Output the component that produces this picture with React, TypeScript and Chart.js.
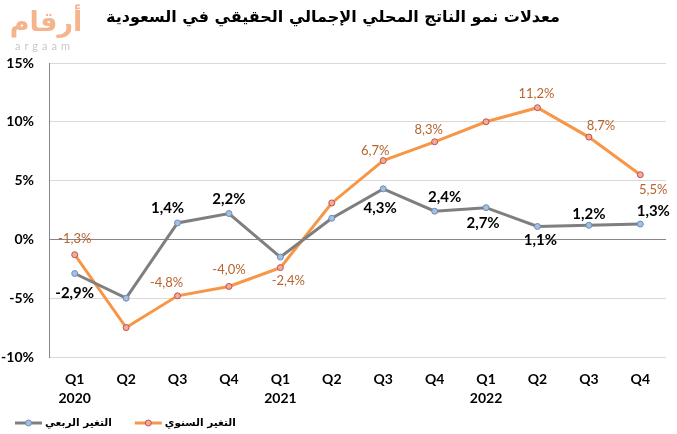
import React, { useEffect, useRef } from "react";
import { Chart, registerables } from "chart.js";

Chart.register(...registerables);

const quarters = ["Q1", "Q2", "Q3", "Q4", "Q1", "Q2", "Q3", "Q4", "Q1", "Q2", "Q3", "Q4"];
const years = ["2020", "", "", "", "2021", "", "", "", "2022", "", "", ""];
const quarterlyChange = [-2.9, -5.0, 1.4, 2.2, -1.5, 1.8, 4.3, 2.4, 2.7, 1.1, 1.2, 1.3];
const annualChange = [-1.3, -7.5, -4.8, -4.0, -2.4, 3.1, 6.7, 8.3, 10.0, 11.2, 8.7, 5.5];
const yTicks = [-10, -5, 0, 5, 10, 15];

const titleText = "معدلات نمو الناتج المحلي الإجمالي الحقيقي في السعودية";
const quarterlyName = "التغير الربعي";
const annualName = "التغير السنوي";

// label placement relative to each point (dx, dy) ; null = no label
const quarterlyLabelPlacement: ([number, number] | null)[] = [
  [0, 20], null, [-10, -15], [0, -14], null, null,
  [-3, 19], [10, -14], [-3, 16], [3, 14], [0, -11], [13, -13],
];
const annualLabelPlacement: ([number, number] | null)[] = [
  [0, -16], null, [-11, -13], [0, -17], [8, 13], null,
  [-8, -10], [-6, -12], null, [-1, -14], [12, -11], [13, 15],
];

const NUM_FONT = "Lato, 'Open Sans', sans-serif";
const AR_FONT = "'DejaVu Sans', sans-serif";

const fmt = (v: number) => v.toFixed(1).replace(".", ",") + "%";

const extrasPlugin = {
  id: "extras",
  afterDatasetsDraw(chart: any) {
    const ctx = chart.ctx as CanvasRenderingContext2D;
    const configs = [
      { placement: quarterlyLabelPlacement, font: `bold 15px ${NUM_FONT}`, color: "#000000" },
      { placement: annualLabelPlacement, font: `13px ${NUM_FONT}`, color: "#B8642E" },
    ];
    chart.data.datasets.forEach((ds: any, di: number) => {
      const meta = chart.getDatasetMeta(di);
      const cfg = configs[di];
      ctx.save();
      ctx.font = cfg.font;
      ctx.fillStyle = cfg.color;
      ctx.textAlign = "center";
      ctx.textBaseline = "middle";
      meta.data.forEach((pt: any, i: number) => {
        const p = cfg.placement[i];
        if (!p) return;
        ctx.fillText(fmt(ds.data[i]), pt.x + p[0], pt.y + p[1]);
      });
      ctx.restore();
    });
  },
  afterDraw(chart: any) {
    const ctx = chart.ctx as CanvasRenderingContext2D;
    // logo
    ctx.save();
    ctx.fillStyle = "#F6B48C";
    ctx.font = `bold 27px ${AR_FONT}`;
    ctx.textAlign = "center";
    ctx.textBaseline = "middle";
    ctx.fillText("أرقام", 46, 24);
    ctx.fillStyle = "#C8C8C8";
    ctx.font = `11px ${NUM_FONT}`;
    (ctx as any).letterSpacing = "4px";
    ctx.textAlign = "left";
    ctx.fillText("argaam", 15, 46);
    ctx.restore();

    // legend
    ctx.save();
    ctx.font = `bold 10.5px ${AR_FONT}`;
    ctx.textBaseline = "middle";
    ctx.textAlign = "left";
    let x = 15;
    const y = 423;
    chart.data.datasets.forEach((ds: any) => {
      ctx.strokeStyle = ds.borderColor;
      ctx.lineWidth = 3;
      ctx.beginPath();
      ctx.moveTo(x, y);
      ctx.lineTo(x + 27, y);
      ctx.stroke();
      ctx.beginPath();
      ctx.arc(x + 13.5, y, 3, 0, Math.PI * 2);
      ctx.fillStyle = ds.pointBackgroundColor;
      ctx.fill();
      ctx.lineWidth = 1;
      ctx.strokeStyle = ds.pointBorderColor;
      ctx.stroke();
      ctx.fillStyle = "#000000";
      ctx.fillText(ds.label, x + 30, y);
      x += 30 + ctx.measureText(ds.label).width + 23;
    });
    ctx.restore();
  },
};

export default function App() {
  const canvasRef = useRef<HTMLCanvasElement | null>(null);

  useEffect(() => {
    document.body.style.margin = "0";
    const canvas = canvasRef.current;
    if (!canvas) return;
    const labels = quarters.map((q, i) => (years[i] ? [q, years[i]] : q));
    const chart = new Chart(canvas, {
      type: "line",
      data: {
        labels,
        datasets: [
          {
            label: quarterlyName,
            data: quarterlyChange,
            borderColor: "#7F7F7F",
            borderWidth: 3,
            pointRadius: 3,
            pointBorderWidth: 1,
            pointBackgroundColor: "#A7BFDE",
            pointBorderColor: "#6A8CBC",
            tension: 0,
          },
          {
            label: annualName,
            data: annualChange,
            borderColor: "#F79646",
            borderWidth: 3,
            pointRadius: 3,
            pointBorderWidth: 1,
            pointBackgroundColor: "#F4AC98",
            pointBorderColor: "#C0504D",
            tension: 0,
          },
        ],
      },
      options: {
        responsive: false,
        animation: false,
        layout: { padding: { left: 0, right: 11, top: 0, bottom: 0 } },
        plugins: {
          legend: { display: false },
          tooltip: { enabled: false },
          title: {
            display: true,
            text: titleText,
            color: "#000000",
            font: { family: AR_FONT, size: 16, weight: "bold", lineHeight: 1.5 },
            padding: { top: 6, bottom: 33 },
          },
        },
        scales: {
          x: {
            type: "category",
            offset: true,
            grid: { display: false, drawTicks: false },
            border: { display: false },
            ticks: {
              color: "#000000",
              font: { family: NUM_FONT, size: 14, weight: "bold", lineHeight: 1.35 },
              padding: 13,
              maxRotation: 0,
              autoSkip: false,
            },
            afterFit: (scale: any) => {
              scale.height = 77;
            },
          },
          y: {
            min: yTicks[0],
            max: yTicks[yTicks.length - 1],
            afterBuildTicks: (scale: any) => {
              scale.ticks = yTicks.map((v) => ({ value: v }));
            },
            grid: {
              drawTicks: false,
              color: (c: any) => (c.tick && c.tick.value === 0 ? "#868686" : "#D9D9D9"),
              lineWidth: 1,
            },
            border: { display: true, color: "#868686", width: 1 },
            ticks: {
              color: "#000000",
              font: { family: NUM_FONT, size: 14, weight: "bold" },
              padding: 15,
              callback: (v: any) => v + "%",
            },
            afterFit: (scale: any) => {
              scale.width = 49;
            },
          },
        },
      },
      plugins: [extrasPlugin],
    });
    return () => chart.destroy();
  }, []);

  return (
    <div style={{ width: 677, height: 434, background: "#ffffff" }}>
      <canvas ref={canvasRef} width={677} height={434} style={{ width: 677, height: 434, display: "block" }} />
    </div>
  );
}
